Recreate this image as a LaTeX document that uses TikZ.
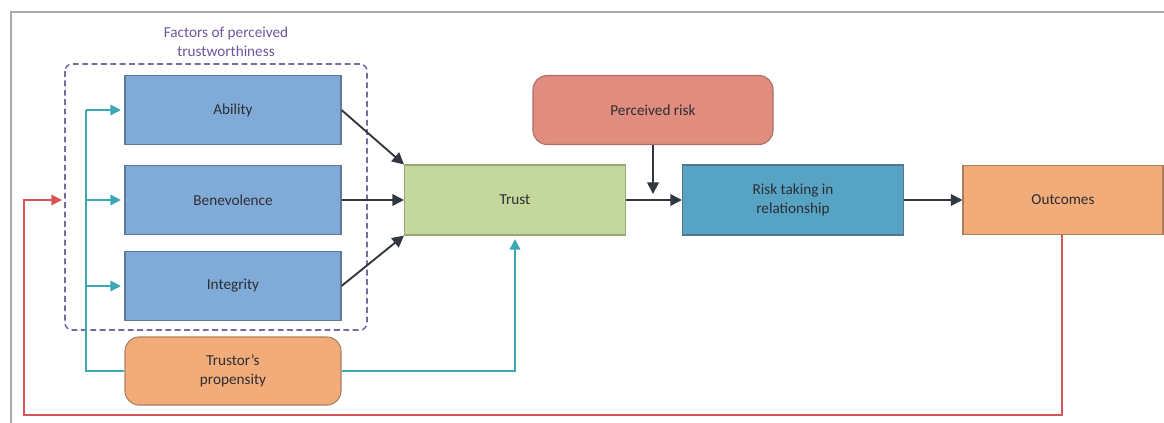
\documentclass[tikz,border=0pt]{standalone}
\usepackage{fontspec}
\setmainfont{Carlito}
\usetikzlibrary{arrows.meta}
\definecolor{blueF}{RGB}{128,171,216}
\definecolor{blueD}{RGB}{96,122,150}
\definecolor{greenF}{RGB}{196,216,158}
\definecolor{greenD}{RGB}{150,170,120}
\definecolor{redF}{RGB}{224,140,126}
\definecolor{redD}{RGB}{170,110,100}
\definecolor{tealF}{RGB}{86,163,196}
\definecolor{tealD}{RGB}{80,120,140}
\definecolor{orangeF}{RGB}{242,172,122}
\definecolor{orangeD}{RGB}{170,125,95}
\definecolor{tealL}{RGB}{60,168,180}
\definecolor{redL}{RGB}{214,86,86}
\definecolor{darkL}{RGB}{50,54,62}
\definecolor{purp}{RGB}{110,85,160}
\definecolor{purpD}{RGB}{120,105,160}
\definecolor{frameC}{RGB}{170,170,170}
\definecolor{txt}{RGB}{45,45,50}
\begin{document}
\begin{tikzpicture}[x=0.03cm,y=-0.03cm,
  box/.style={draw=#1, line width=0.9pt, minimum width=216*0.03cm, minimum height=69*0.03cm, inner sep=0pt, text=txt, font=\fontsize{13}{16}\selectfont, align=center},
  rbox/.style={box=#1, rounded corners=12pt},
  darr/.style={draw=darkL, line width=1.6pt, -{Triangle[length=10pt,width=10pt]}},
  tarr/.style={draw=tealL, line width=1.3pt, -{Triangle[length=9pt,width=9pt]}},
  tline/.style={draw=tealL, line width=1.3pt},
  rarr/.style={draw=redL, line width=1.3pt, -{Triangle[length=9pt,width=9pt]}}]
\useasboundingbox (0,0) rectangle (1164,423);
\draw[frameC, line width=0.9pt] (11,423) -- (11,12) -- (1164,12);
% dashed group
\draw[purpD, line width=1.3pt, dash pattern=on 5pt off 3pt, rounded corners=6pt] (65,64) rectangle (367,330);
\node[text=purp, font=\fontsize{13}{16}\selectfont, align=center] (title) at (226,42) {Factors of perceived\\trustworthiness};
% nodes
\node[box=blueD, fill=blueF] (abil) at (233,110) {Ability};
\node[box=blueD, fill=blueF] (bene) at (233,200) {Benevolence};
\node[box=blueD, fill=blueF] (inte) at (233,286) {Integrity};
\node[rbox=orangeD, fill=orangeF, minimum height=68*0.03cm] (prop) at (233,371) {Trustor's\\propensity};
\node[box=greenD, fill=greenF, minimum width=221*0.03cm, minimum height=70*0.03cm] (trust) at (515,200) {Trust};
\node[rbox=redD, fill=redF, minimum width=240*0.03cm] (risk) at (653,110) {Perceived risk};
\node[box=tealD, fill=tealF, minimum width=221*0.03cm, minimum height=70*0.03cm] (take) at (793,200) {Risk taking in\\relationship};
\node[box=orangeD, fill=orangeF, minimum width=200*0.03cm, minimum height=69*0.03cm] (out) at (1063,200) {Outcomes};
% coordinates
\coordinate (tl) at (86,371);
\coordinate (rl) at (515,371);
\coordinate (jn) at (653,194);
\coordinate (rb) at (1062,415);
\coordinate (lb) at (24,415);
\coordinate (lm) at (24,200);
\coordinate (lt) at (62,200);
% dark arrows
\draw[darr] (abil.east) -- (trust.north west);
\draw[darr] (bene.east) -- (trust.west);
\draw[darr] (inte.east) -- (trust.south west);
\draw[darr] (trust.east) -- (take.west);
\draw[darr] (risk.south) -- (jn);
\draw[darr] (take.east) -- (out.west);
% teal
\draw[tline] (prop.west) -- (tl) -- (tl |- abil.west);
\draw[tarr] (tl |- abil.west) -- ([xshift=-3pt]abil.west);
\draw[tarr] (tl |- bene.west) -- ([xshift=-3pt]bene.west);
\draw[tarr] (tl |- inte.west) -- ([xshift=-3pt]inte.west);
\draw[tarr] (prop.east) -- (rl) -- ([yshift=-3pt]trust.south);
% red feedback
\draw[rarr] (out.south -| rb) -- (rb) -- (lb) -- (lm) -- (lt);
\end{tikzpicture}
\end{document}
